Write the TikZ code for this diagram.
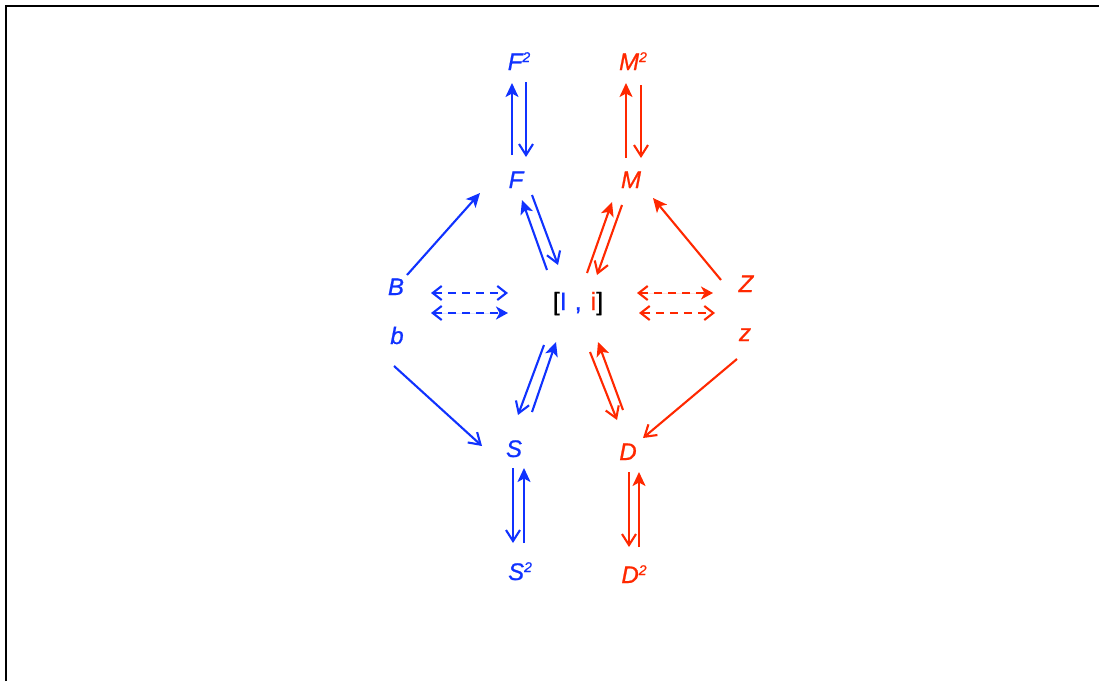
\documentclass[tikz,border=0pt]{standalone}
\usepackage{fontspec}
\setmainfont{Liberation Sans}
\newfontfamily\heavysans{Liberation Sans}[FakeBold=0.8]
\usetikzlibrary{arrows.meta}
\definecolor{cblue}{HTML}{1032FF}
\definecolor{cred}{HTML}{FF2800}
\newcommand\sqr{\raisebox{8pt}{\fontsize{14}{14}\selectfont 2}}
\begin{document}
\begin{tikzpicture}[x=1pt,y=-1pt,
  lab/.style={inner sep=0pt, anchor=base, font=\heavysans\fontsize{24}{28}\selectfont\itshape},
  bl/.style={lab, text=cblue},
  rd/.style={lab, text=cred},
  conn/.style={line width=2.1pt},
  ohead/.style={conn,-{Straight Barb[length=11pt,width=14pt]}},
  fhead/.style={conn,-{Stealth[length=14pt,width=13pt,inset=3.5pt]}},
  ob/.style={ohead,draw=cblue}, fb/.style={fhead,draw=cblue},
  orr/.style={ohead,draw=cred}, fr/.style={fhead,draw=cred},
  dashedarrow/.style={conn,dash pattern=on 8pt off 6pt},
  dboth/.style={dashedarrow,{Straight Barb[length=9pt,width=14pt]}-{Straight Barb[length=9pt,width=14pt]}},
  dbothf/.style={dashedarrow,{Straight Barb[length=9pt,width=14pt]}-{Stealth[length=12pt,width=13pt,inset=3.5pt]}}
]
\useasboundingbox (0,0) rectangle (1099,681);
\draw[line width=2.5pt] (6,681) -- (6,6) -- (1099,6);

% nodes
\node[bl] (F2) at (519,70) {F\sqr};
\node[rd] (M2) at (633,70) {M\sqr};
\node[bl] (F) at (516,188) {F};
\node[rd] (M) at (631,188) {M};
\node[bl] (B) at (396,295) {B};
\node[bl] (b) at (397,344) {b};
\node[rd] (Z) at (746,292) {Z};
\node[rd] (z) at (745,341) {z};
\node[lab, font=\heavysans\fontsize{25}{29}\selectfont] (I) at (578,310)
  {[\textcolor{cblue}{I\hspace{1pt} ,\hspace{2pt} }\textcolor{cred}{i}]};
\node[bl] (S) at (514,457) {S};
\node[rd] (D) at (628,460) {D};
\node[bl] (S2) at (520,580) {S\sqr};
\node[rd] (D2) at (634,583) {D\sqr};

% F2 / F
\draw[fb] ([shift={(-4,-33)}]F.base) -- ([shift={(-7,13)}]F2.base);
\draw[ob] ([shift={(7,12)}]F2.base) -- ([shift={(10,-31)}]F.base);
% M2 / M
\draw[fr] ([shift={(-5,-30)}]M.base) -- ([shift={(-7,13)}]M2.base);
\draw[orr] ([shift={(8,15)}]M2.base) -- ([shift={(10,-30)}]M.base);
% B -> F
\draw[fb] ([shift={(11,-20)}]B.base) -- ([shift={(-36,5)}]F.base);
% I <-> F
\draw[fb] ([shift={(-31,-40)}]I.base) -- ([shift={(6,12)}]F.base);
\draw[ob] ([shift={(16,7)}]F.base) -- ([shift={(-20,-45)}]I.base);
% I <-> M
\draw[fr] ([shift={(9,-37)}]I.base) -- ([shift={(-19,14)}]M.base);
\draw[orr] ([shift={(-9,17)}]M.base) -- ([shift={(19,-35)}]I.base);
% Z -> M
\draw[fr] ([shift={(-25,-12)}]Z.base) -- ([shift={(22,10)}]M.base);
% dashed
\draw[dboth,draw=cblue] ([shift={(35,-2)}]B.base) -- ([shift={(-70,-17)}]I.base);
\draw[dbothf,draw=cblue,fill=cblue] ([shift={(34,-31)}]b.base) -- ([shift={(-70,3)}]I.base);
\draw[dbothf,draw=cred,fill=cred] ([shift={(59,-17)}]I.base) -- ([shift={(-33,1)}]Z.base);
\draw[dboth,draw=cred] ([shift={(61,3)}]I.base) -- ([shift={(-30,-28)}]z.base);
% b -> S
\draw[ob] ([shift={(-3,22)}]b.base) -- ([shift={(-32,-11)}]S.base);
% S <-> I
\draw[fb] ([shift={(18,-45)}]S.base) -- ([shift={(-22,32)}]I.base);
\draw[ob] ([shift={(-34,35)}]I.base) -- ([shift={(4,-42)}]S.base);
% D <-> I
\draw[fr] ([shift={(-5,-50)}]D.base) -- ([shift={(20,32)}]I.base);
\draw[orr] ([shift={(12,42)}]I.base) -- ([shift={(-11,-40)}]D.base);
% z -> D
\draw[orr] ([shift={(-8,18)}]z.base) -- ([shift={(15,-22)}]D.base);
% S / S2
\draw[ob] ([shift={(-1,11)}]S.base) -- ([shift={(-7,-37)}]S2.base);
\draw[fb] ([shift={(4,-37)}]S2.base) -- ([shift={(10,11)}]S.base);
% D / D2
\draw[orr] ([shift={(1,12)}]D.base) -- ([shift={(-5,-36)}]D2.base);
\draw[fr] ([shift={(5,-36)}]D2.base) -- ([shift={(11,12)}]D.base);
\end{tikzpicture}
\end{document}
